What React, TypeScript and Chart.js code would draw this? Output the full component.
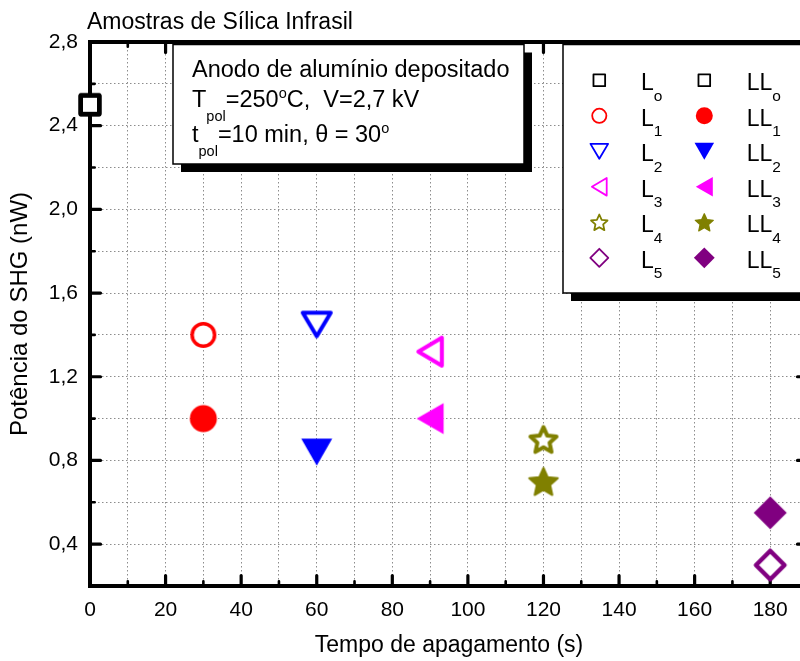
import React, { useEffect, useRef } from 'react';
import { Chart, registerables } from 'chart.js';

Chart.register(...registerables);

const FONT = '"Liberation Sans", Arial, Helvetica, sans-serif';

// Quench time (s) of each sample pair
const quenchTimes = [0, 30, 60, 90, 120, 180];
// SHG power (nW), L samples and LL samples
const powerL = [2.5, 1.4, 1.45, 1.32, 0.9, 0.3];
const powerLL = [2.5, 1.0, 0.84, 1.0, 0.7, 0.55];
const sampleSubs = ['o', '1', '2', '3', '4', '5'];
const sampleColors = ['#000000', '#ff0000', '#0000ff', '#ff00ff', '#808000', '#800080'];
const sampleShapes = ['square', 'circle', 'triDown', 'triLeft', 'star', 'diamond'];
const filledLL = [false, true, true, true, true, true];

// Axis ranges and tick spacing
const xRange = [0, 190];
const xStep = 10;
const xLabelStep = 20;
const yRange = [0.2, 2.8];
const yStep = 0.2;
const yLabelStep = 0.4;

const chartTitle = 'Amostras de Sílica Infrasil';
const xTitle = 'Tempo de apagamento (s)';
const yTitle = 'Potência do SHG (nW)';

type Part = { t: string; sub?: boolean; sup?: boolean };
const infoLines: Part[][] = [
  [{ t: 'Anodo de alumínio depositado' }],
  [{ t: 'T' }, { t: 'pol', sub: true }, { t: '=250' }, { t: 'o', sup: true }, { t: 'C,  V=2,7 kV' }],
  [{ t: 't' }, { t: 'pol', sub: true }, { t: '=10 min, \u03b8 = 30' }, { t: 'o', sup: true }],
];

function tracePath(ctx: CanvasRenderingContext2D, shape: string, cx: number, cy: number, k: number, filled: boolean) {
  ctx.beginPath();
  if (shape === 'square') {
    const h = 9.25 * k;
    ctx.rect(cx - h, cy - h, 2 * h, 2 * h);
  } else if (shape === 'circle') {
    const r = (filled ? 13.5 : 11.25) * k;
    ctx.arc(cx, cy, r, 0, Math.PI * 2);
  } else if (shape === 'triDown' || shape === 'triLeft') {
    const w = (filled ? 31 : 28) * k;
    const t = (filled ? 27 : 23.5) * k;
    if (shape === 'triDown') {
      ctx.moveTo(cx - w / 2, cy - t / 2);
      ctx.lineTo(cx + w / 2, cy - t / 2);
      ctx.lineTo(cx, cy + t / 2);
    } else {
      ctx.moveTo(cx + t / 2, cy - w / 2);
      ctx.lineTo(cx + t / 2, cy + w / 2);
      ctx.lineTo(cx - t / 2, cy);
    }
    ctx.closePath();
  } else if (shape === 'star') {
    const R = (filled ? 15 : 13.7) * k;
    const ri = R * 0.47;
    const oy = cy + 0.0955 * R;
    for (let i = 0; i < 10; i++) {
      const a = -Math.PI / 2 + (i * Math.PI) / 5;
      const rr = i % 2 === 0 ? R : ri;
      const px = cx + rr * Math.cos(a);
      const py = oy + rr * Math.sin(a);
      if (i === 0) ctx.moveTo(px, py);
      else ctx.lineTo(px, py);
    }
    ctx.closePath();
  } else {
    const r = (filled ? 16.5 : 14.25) * k;
    ctx.moveTo(cx, cy - r);
    ctx.lineTo(cx + r, cy);
    ctx.lineTo(cx, cy + r);
    ctx.lineTo(cx - r, cy);
    ctx.closePath();
  }
}

function paintMarker(
  ctx: CanvasRenderingContext2D,
  shape: string,
  color: string,
  filled: boolean,
  cx: number,
  cy: number,
  k: number,
  lw: number
) {
  ctx.save();
  ctx.lineJoin = 'round';
  tracePath(ctx, shape, cx, cy, k, filled);
  if (filled) {
    ctx.fillStyle = color;
    ctx.fill();
    if (shape === 'star') {
      ctx.strokeStyle = color;
      ctx.lineWidth = 2 * k;
      ctx.stroke();
    }
  } else {
    ctx.fillStyle = '#ffffff';
    ctx.fill();
    ctx.strokeStyle = color;
    ctx.lineWidth = lw;
    ctx.stroke();
  }
  ctx.restore();
}

function strokeFor(shape: string) {
  if (shape === 'square') return 4.5;
  if (shape === 'circle') return 3.5;
  if (shape === 'diamond') return 4.5;
  return 4;
}

function markerImage(shape: string, color: string, filled: boolean) {
  const size = 46;
  const c = document.createElement('canvas');
  c.width = size;
  c.height = size;
  const ctx = c.getContext('2d') as CanvasRenderingContext2D;
  paintMarker(ctx, shape, color, filled, size / 2, size / 2, 1, strokeFor(shape));
  return c;
}

function drawRich(ctx: CanvasRenderingContext2D, x: number, y: number, parts: Part[], main: number, small: number, subDy: number, supDy: number) {
  let cx = x;
  for (const p of parts) {
    const size = p.sub || p.sup ? small : main;
    ctx.font = `${size}px ${FONT}`;
    const dy = p.sub ? subDy : p.sup ? supDy : 0;
    ctx.fillText(p.t, cx, y + dy);
    cx += ctx.measureText(p.t).width;
  }
}

// Thick frame with inward ticks on all four sides
const framePlugin = {
  id: 'frame',
  beforeDatasetsDraw(chart: any) {
    const { ctx, chartArea } = chart;
    const { left, right, top, bottom } = chartArea;
    const xs = chart.scales.x;
    const ys = chart.scales.y;
    ctx.save();
    ctx.strokeStyle = '#000';
    ctx.lineCap = 'round';
    for (let v = xRange[0] + xStep; v < xRange[1] - 1e-9; v += xStep) {
      const major = Math.abs(v / xLabelStep - Math.round(v / xLabelStep)) < 1e-6;
      const len = major ? 10.5 : 4.7;
      ctx.lineWidth = major ? 3.2 : 2.6;
      const px = xs.getPixelForValue(v);
      ctx.beginPath();
      ctx.moveTo(px, bottom);
      ctx.lineTo(px, bottom - len);
      ctx.moveTo(px, top);
      ctx.lineTo(px, top + len);
      ctx.stroke();
    }
    for (let i = 1; ; i++) {
      const v = yRange[0] + i * yStep;
      if (v > yRange[1] - 1e-6) break;
      const q = v / yLabelStep;
      const major = Math.abs(q - Math.round(q)) < 1e-6;
      const len = major ? 10.5 : 4.7;
      ctx.lineWidth = major ? 3.2 : 2.6;
      const py = ys.getPixelForValue(v);
      ctx.beginPath();
      ctx.moveTo(left, py);
      ctx.lineTo(left + len, py);
      ctx.moveTo(right, py);
      ctx.lineTo(right - len, py);
      ctx.stroke();
    }
    ctx.lineCap = 'butt';
    ctx.lineWidth = 4;
    ctx.strokeRect(left, top, right - left, bottom - top);
    ctx.restore();
  },
};

// Title, information box and symbol key
const overlayPlugin = {
  id: 'overlay',
  afterDatasetsDraw(chart: any) {
    const { ctx, chartArea } = chart;
    const { left, top } = chartArea;
    ctx.save();
    ctx.fillStyle = '#000';
    ctx.textBaseline = 'alphabetic';
    ctx.textAlign = 'left';
    ctx.font = `23px ${FONT}`;
    ctx.fillText(chartTitle, left - 3, top - 12.7);

    // information box
    const bx = left + 83;
    const by = top + 2.5;
    const bw = 351;
    const bh = 119.5;
    ctx.fillStyle = '#000';
    ctx.fillRect(bx + 8, by + 8, bw, bh);
    ctx.fillStyle = '#fff';
    ctx.fillRect(bx, by, bw, bh);
    ctx.strokeStyle = '#000';
    ctx.lineWidth = 1.5;
    ctx.strokeRect(bx, by, bw, bh);
    ctx.fillStyle = '#000';
    const baselines = [76.5, 106.7, 141.7];
    infoLines.forEach((parts, i) => {
      drawRich(ctx, bx + 19, baselines[i], parts, 23.5, 14.5, 14, -8.5);
    });

    // symbol key
    const kx = 563;
    const ky = top + 2.5;
    const kw = 270;
    const kh = 248.5;
    ctx.fillStyle = '#000';
    ctx.fillRect(kx + 8, ky + 8, kw, kh);
    ctx.fillStyle = '#fff';
    ctx.fillRect(kx, ky, kw, kh);
    ctx.strokeStyle = '#000';
    ctx.lineWidth = 1.5;
    ctx.strokeRect(kx, ky, kw, kh);
    sampleSubs.forEach((s, i) => {
      const ry = 80.3 + 35.5 * i;
      paintMarker(ctx, sampleShapes[i], sampleColors[i], false, 599.3, ry, 0.63, 1.8);
      paintMarker(ctx, sampleShapes[i], sampleColors[i], filledLL[i], 704.3, ry, 0.63, 1.8);
      ctx.fillStyle = '#000';
      drawRich(ctx, 641, ry + 9.7, [{ t: 'L' }, { t: s, sub: true }], 23, 15.5, 10.7, 0);
      drawRich(ctx, 746.7, ry + 9.7, [{ t: 'LL' }, { t: s, sub: true }], 23, 15.5, 10.7, 0);
    });
    ctx.restore();
  },
};

export default function App() {
  const ref = useRef<HTMLCanvasElement | null>(null);

  useEffect(() => {
    if (!ref.current) return;
    const datasets: any[] = [];
    quenchTimes.forEach((t, i) => {
      datasets.push({
        label: 'L' + sampleSubs[i],
        data: [{ x: t, y: powerL[i] }],
        pointStyle: markerImage(sampleShapes[i], sampleColors[i], false),
        pointRadius: 15,
        clip: false,
        showLine: false,
      });
      datasets.push({
        label: 'LL' + sampleSubs[i],
        data: [{ x: t, y: powerLL[i] }],
        pointStyle: markerImage(sampleShapes[i], sampleColors[i], filledLL[i]),
        pointRadius: 15,
        clip: false,
        showLine: false,
      });
    });

    const chart = new Chart(ref.current, {
      type: 'scatter',
      data: { datasets },
      plugins: [framePlugin, overlayPlugin],
      options: {
        responsive: false,
        animation: false,
        devicePixelRatio: 1,
        events: [],
        layout: { padding: { left: 0, top: 42, right: 22, bottom: 0 } },
        plugins: { legend: { display: false }, tooltip: { enabled: false } },
        scales: {
          x: {
            type: 'linear',
            min: xRange[0],
            max: xRange[1],
            afterFit: (s: any) => {
              s.height = 75;
            },
            grid: { color: '#8c8c8c', lineWidth: 1, drawTicks: false },
            border: { display: false, dash: [1.5, 2.5] },
            ticks: {
              stepSize: xStep,
              autoSkip: false,
              maxRotation: 0,
              maxTicksLimit: 100,
              padding: 12,
              color: '#000',
              font: { family: FONT, size: 21 },
              callback: (v: any) => (Math.abs(v / xLabelStep - Math.round(v / xLabelStep)) < 1e-6 ? String(v) : ''),
            },
            title: {
              display: true,
              text: xTitle,
              color: '#000',
              font: { family: FONT, size: 23 },
              padding: { top: 0, bottom: 2 },
            },
          },
          y: {
            type: 'linear',
            min: yRange[0],
            max: yRange[1],
            afterFit: (s: any) => {
              s.width = 90;
            },
            grid: { color: '#8c8c8c', lineWidth: 1, drawTicks: false },
            border: { display: false, dash: [1.5, 2.5] },
            ticks: {
              stepSize: yStep,
              autoSkip: false,
              maxTicksLimit: 100,
              padding: 12,
              color: '#000',
              font: { family: FONT, size: 21 },
              callback: (v: any) => {
                const q = v / yLabelStep;
                return Math.abs(q - Math.round(q)) < 1e-6 ? Number(v).toFixed(1).replace('.', ',') : '';
              },
            },
            title: {
              display: true,
              text: yTitle,
              color: '#000',
              font: { family: FONT, size: 24 },
              padding: { top: 6, bottom: 0 },
            },
          },
        },
      },
    });
    return () => chart.destroy();
  }, []);

  return (
    <div
      style={{
        position: 'fixed',
        left: 0,
        top: 0,
        width: 800,
        height: 661,
        overflow: 'hidden',
        background: '#ffffff',
      }}
    >
      <canvas ref={ref} width={830} height={661} style={{ display: 'block', width: 830, height: 661 }} />
    </div>
  );
}
